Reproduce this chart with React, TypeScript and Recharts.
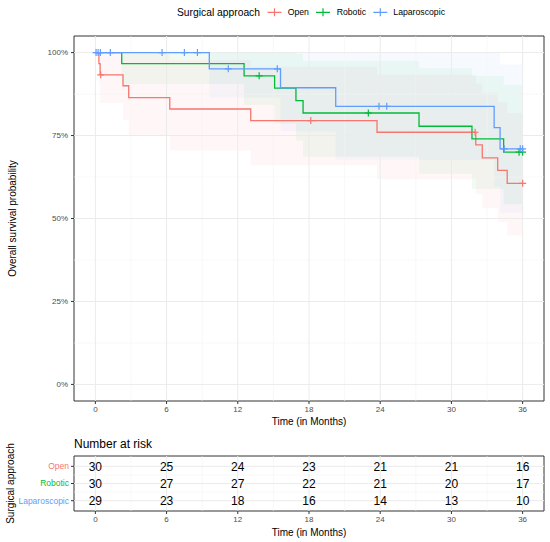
import React from "react";
import {
  ComposedChart,
  Line,
  Area,
  Scatter,
  XAxis,
  YAxis,
  ReferenceLine,
  ReferenceArea,
} from "recharts";

// Open approach
const openTimes = [0, 0.3, 0.4, 2.33, 2.81, 6.27, 13.09, 23.73, 32.05, 32.6, 33.9, 34.7, 36];
const openSurv = [100, 96.7, 93.3, 90.0, 86.4, 83.0, 79.5, 76.0, 72.2, 68.3, 64.5, 60.6, 60.6];
const openLower = [100, 90.5, 84.8, 79.7, 74.9, 70.5, 66.0, 61.9, 57.4, 53.1, 48.9, 44.9, 44.9];
const openUpper = [100, 100, 100, 100, 99.7, 97.8, 95.7, 93.4, 90.7, 87.9, 85.0, 81.8, 81.8];
const openCensorTimes = [0.45, 18.15, 32.0, 36];
const openCensorSurv = [93.3, 79.5, 76.0, 60.6];

// Robotic approach
const roboticTimes = [0, 2.22, 12.53, 15.1, 16.9, 17.5, 27.27, 31.73, 34.4, 36];
const roboticSurv = [100, 96.7, 93.0, 89.3, 85.5, 81.8, 77.8, 74.0, 70.0, 70.0];
const roboticLower = [100, 90.5, 84.2, 78.6, 73.4, 68.6, 63.5, 58.9, 54.3, 54.3];
const roboticUpper = [100, 100, 100, 100, 99.6, 97.5, 95.3, 93.0, 90.3, 90.3];
const roboticCensorTimes = [13.8, 23.0, 35.7, 36];
const roboticCensorSurv = [93.0, 81.8, 70.0, 70.0];

// Laparoscopic approach
const lapTimes = [0, 9.6, 15.6, 20.25, 33.6, 34.1, 36];
const lapSurv = [100, 95.1, 89.4, 83.8, 77.4, 71.0, 71.0];
const lapLower = [100, 86.5, 76.3, 67.7, 59.6, 51.7, 51.7];
const lapUpper = [100, 100, 100, 100, 100, 96.4, 96.4];
const lapCensorTimes = [0.06, 0.23, 0.42, 1.26, 5.62, 7.5, 8.6, 11.2, 15.33, 23.9, 24.55, 34.45, 35.8, 36];
const lapCensorSurv = [100, 100, 100, 100, 100, 100, 100, 95.1, 95.1, 83.8, 83.8, 71.0, 71.0, 71.0];

// Number at risk table
const groups = ["Open", "Robotic", "Laparoscopic"];
const riskTimes = [0, 6, 12, 18, 24, 30, 36];
const riskOpen = [30, 25, 24, 23, 21, 21, 16];
const riskRobotic = [30, 27, 27, 22, 21, 20, 17];
const riskLap = [29, 23, 18, 16, 14, 13, 10];

const xTicks = [0, 6, 12, 18, 24, 30, 36];
const xMinor = [3, 9, 15, 21, 27, 33];
const yTicks = [0, 25, 50, 75, 100];
const yMinor = [12.5, 37.5, 62.5, 87.5];

const COLORS = ["#F8766D", "#00BA38", "#619CFF"];
const FONT = "'Liberation Sans', Arial, sans-serif";
const X_DOMAIN: [number, number] = [-1.8, 37.8];

const curve = (times: number[], surv: number[]) =>
  times.map((t, i) => ({ t, s: surv[i] }));
const band = (times: number[], lo: number[], hi: number[]) =>
  times.map((t, i) => ({ t, band: [lo[i], hi[i]] }));

const series = [
  {
    name: "Open",
    color: COLORS[0],
    line: curve(openTimes, openSurv),
    band: band(openTimes, openLower, openUpper),
    censor: curve(openCensorTimes, openCensorSurv),
  },
  {
    name: "Robotic",
    color: COLORS[1],
    line: curve(roboticTimes, roboticSurv),
    band: band(roboticTimes, roboticLower, roboticUpper),
    censor: curve(roboticCensorTimes, roboticCensorSurv),
  },
  {
    name: "Laparoscopic",
    color: COLORS[2],
    line: curve(lapTimes, lapSurv),
    band: band(lapTimes, lapLower, lapUpper),
    censor: curve(lapCensorTimes, lapCensorSurv),
  },
];

const riskRows = [riskOpen, riskRobotic, riskLap];
const riskData = riskRows.flatMap((row, r) =>
  riskTimes.map((t, i) => ({ t, row: r + 1, n: row[i] }))
);

const tickStyle = { fill: "#4D4D4D", fontSize: 8, fontFamily: FONT };

const plusShape = (color: string) => (props: any) => {
  const { cx, cy } = props;
  if (cx == null || cy == null) return <g />;
  return (
    <path
      d={`M${cx - 3.5},${cy}h7M${cx},${cy - 3.5}v7`}
      stroke={color}
      strokeWidth={1.2}
      fill="none"
    />
  );
};

const gridLines = (xs: number[], ys: number[], major: boolean) => [
  ...xs.map((v) => (
    <ReferenceLine
      key={`x${major}${v}`}
      x={v}
      stroke={major ? "#EBEBEB" : "#F4F4F4"}
      strokeWidth={major ? 1 : 0.6}
    />
  )),
  ...ys.map((v) => (
    <ReferenceLine
      key={`y${major}${v}`}
      y={v}
      stroke={major ? "#EBEBEB" : "#F4F4F4"}
      strokeWidth={major ? 1 : 0.6}
    />
  )),
];

const SurvivalPlot = () => (
  <ComposedChart
    width={550}
    height={432}
    margin={{ top: 36, right: 6, bottom: 0, left: 0 }}
  >
    <XAxis
      type="number"
      dataKey="t"
      domain={X_DOMAIN}
      ticks={xTicks}
      interval={0}
      allowDataOverflow
      axisLine={false}
      tickLine={{ stroke: "#333333" }}
      tickSize={3}
      tickMargin={2}
      height={31}
      tick={tickStyle}
    />
    <YAxis
      type="number"
      domain={[-5, 105]}
      ticks={yTicks}
      interval={0}
      allowDataOverflow
      width={74}
      axisLine={false}
      tickLine={{ stroke: "#333333" }}
      tickSize={3}
      tickMargin={3}
      tickFormatter={(v) => `${v}%`}
      tick={tickStyle}
    />
    {gridLines(xMinor, yMinor, false)}
    {gridLines(xTicks, yTicks, true)}
    {series.map((s) => (
      <Area
        key={`band-${s.name}`}
        data={s.band}
        dataKey="band"
        type="stepAfter"
        fill={s.color}
        fillOpacity={0.055}
        stroke="none"
        isAnimationActive={false}
      />
    ))}
    {series.map((s) => (
      <Line
        key={`line-${s.name}`}
        data={s.line}
        dataKey="s"
        type="stepAfter"
        stroke={s.color}
        strokeWidth={1.3}
        dot={false}
        isAnimationActive={false}
      />
    ))}
    {series.map((s) => (
      <Scatter
        key={`cens-${s.name}`}
        data={s.censor}
        dataKey="s"
        shape={plusShape(s.color)}
        isAnimationActive={false}
      />
    ))}
    <ReferenceArea
      x1={X_DOMAIN[0]}
      x2={X_DOMAIN[1]}
      y1={-5}
      y2={105}
      fill="none"
      stroke="#333333"
      strokeWidth={1}
    />
  </ComposedChart>
);

const RiskTick = (props: any) => {
  const { x, y, payload } = props;
  const i = payload.value - 1;
  return (
    <text
      x={x}
      y={y}
      dy="0.35em"
      textAnchor="end"
      fill={COLORS[i]}
      fontSize={8.5}
      fontFamily={FONT}
    >
      {groups[i]}
    </text>
  );
};

const riskText = (props: any) => {
  const { cx, cy, payload } = props;
  if (cx == null || cy == null) return <g />;
  return (
    <text
      x={cx}
      y={cy}
      dy="0.36em"
      textAnchor="middle"
      fontSize={12}
      fontFamily={FONT}
      fill="#000"
    >
      {payload.n}
    </text>
  );
};

const RiskTable = () => (
  <ComposedChart
    width={550}
    height={102}
    margin={{ top: 16, right: 6, bottom: 0, left: 0 }}
  >
    <XAxis
      type="number"
      dataKey="t"
      domain={X_DOMAIN}
      ticks={xTicks}
      interval={0}
      allowDataOverflow
      axisLine={false}
      tickLine={{ stroke: "#333333" }}
      tickSize={3}
      tickMargin={2}
      height={31}
      tick={tickStyle}
    />
    <YAxis
      type="number"
      dataKey="row"
      domain={[0.4, 3.6]}
      ticks={[1, 2, 3]}
      interval={0}
      reversed
      allowDataOverflow
      width={74}
      axisLine={false}
      tickLine={{ stroke: "#333333" }}
      tickSize={3}
      tickMargin={2}
      tick={<RiskTick />}
    />
    {gridLines(xMinor, [1.5, 2.5], false)}
    {gridLines(xTicks, [1, 2, 3], true)}
    <Scatter
      data={riskData}
      dataKey="row"
      shape={riskText}
      isAnimationActive={false}
    />
    <ReferenceArea
      x1={X_DOMAIN[0]}
      x2={X_DOMAIN[1]}
      y1={0.4}
      y2={3.6}
      fill="none"
      stroke="#333333"
      strokeWidth={1}
    />
  </ComposedChart>
);

const legendX = [274.5, 323, 380.3];
const legendTextX = [287.7, 336.7, 393.3];

const Annotations = () => (
  <svg
    width={550}
    height={542}
    style={{ position: "absolute", left: 0, top: 0, pointerEvents: "none" }}
    fontFamily={FONT}
  >
    <text x={177} y={16} fontSize={10.3} fill="#000">
      Surgical approach
    </text>
    {groups.map((g, i) => (
      <g key={g}>
        <path
          d={`M${legendX[i] - 7},12.3h14M${legendX[i]},8.3v8`}
          stroke={COLORS[i]}
          strokeWidth={1.2}
        />
        <text x={legendTextX[i]} y={15.3} fontSize={8.7} fill="#000">
          {g}
        </text>
      </g>
    ))}
    <text
      transform="translate(15.5,218.5) rotate(-90)"
      textAnchor="middle"
      fontSize={10}
      fill="#000"
    >
      Overall survival probability
    </text>
    <text x={309} y={425} textAnchor="middle" fontSize={10} fill="#000">
      Time (in Months)
    </text>
    <text x={74} y={447.5} fontSize={12} fill="#000">
      Number at risk
    </text>
    <text
      transform="translate(13.5,483.5) rotate(-90)"
      textAnchor="middle"
      fontSize={10}
      fill="#000"
    >
      Surgical approach
    </text>
    <text x={309} y={535.5} textAnchor="middle" fontSize={10} fill="#000">
      Time (in Months)
    </text>
  </svg>
);

export default function App() {
  return (
    <div
      style={{
        position: "absolute",
        left: 0,
        top: 0,
        width: 550,
        height: 542,
        background: "#fff",
        overflow: "hidden",
      }}
    >
      <div style={{ position: "absolute", left: 0, top: 0 }}>
        <SurvivalPlot />
      </div>
      <div style={{ position: "absolute", left: 0, top: 440 }}>
        <RiskTable />
      </div>
      <Annotations />
    </div>
  );
}
